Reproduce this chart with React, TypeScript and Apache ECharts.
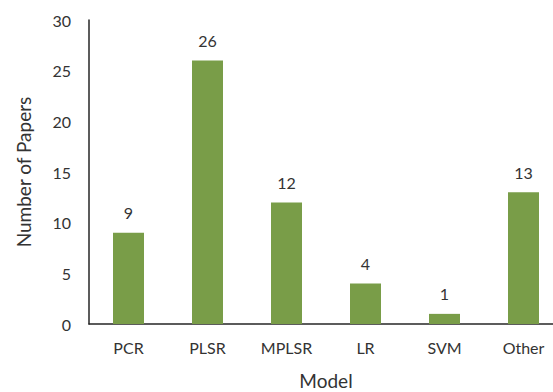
import React, { useEffect, useRef } from "react";
import * as echarts from "echarts";

const categories = ["PCR", "PLSR", "MPLSR", "LR", "SVM", "Other"];
const paperCounts = [9, 26, 12, 4, 1, 13];

const FONT = "Lato, 'Open Sans', sans-serif";
const TEXT = "#333333";

export default function App() {
  const ref = useRef<HTMLDivElement>(null);
  useEffect(() => {
    if (!ref.current) return;
    const chart = echarts.init(ref.current, undefined, { renderer: "svg" });
    chart.setOption({
      animation: false,
      grid: { left: 89, top: 20, width: 474, bottom: 68, containLabel: false, outerBoundsMode: "none" },
      xAxis: {
        type: "category",
        data: categories,
        name: "Model",
        nameLocation: "middle",
        nameGap: 47,
        nameTextStyle: { fontFamily: FONT, fontSize: 19, color: TEXT },
        axisLine: { lineStyle: { color: "#262626", width: 1.5 } },
        axisTick: { show: false },
        axisLabel: { fontFamily: FONT, fontSize: 16, color: TEXT, margin: 15 },
      },
      yAxis: {
        type: "value",
        min: 0,
        max: 30,
        interval: 5,
        name: "Number of Papers",
        nameLocation: "middle",
        nameGap: 56,
        nameTextStyle: { fontFamily: FONT, fontSize: 19, color: TEXT },
        axisLine: { show: true, lineStyle: { color: "#262626", width: 1.5 } },
        axisTick: { show: false },
        splitLine: { show: false },
        axisLabel: { fontFamily: FONT, fontSize: 16, color: TEXT, margin: 18 },
      },
      series: [
        {
          type: "bar",
          data: paperCounts,
          barWidth: 31,
          itemStyle: { color: "#799D48" },
          label: {
            show: true,
            position: "top",
            distance: 12,
            fontFamily: FONT,
            fontSize: 16,
            color: TEXT,
          },
        },
      ],
    });
    return () => chart.dispose();
  }, []);
  return <div ref={ref} style={{ width: 553, height: 392, position: "absolute", left: 0, top: 0 }} />;
}
